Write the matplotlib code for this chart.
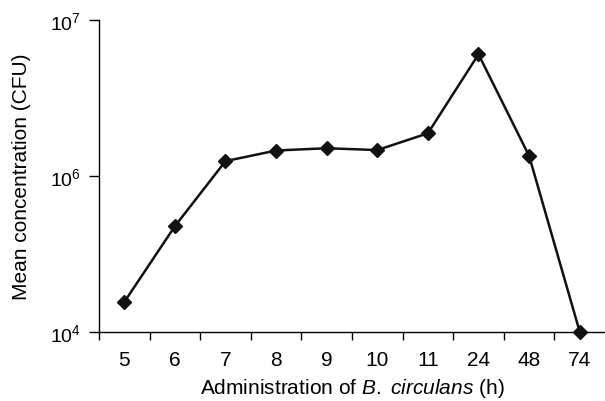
import numpy as np
import matplotlib
matplotlib.use('Agg')
import matplotlib.pyplot as plt

plt.rcParams['font.family'] = 'Liberation Sans'
plt.rcParams['mathtext.fontset'] = 'custom'
plt.rcParams['mathtext.rm'] = 'Liberation Sans'
plt.rcParams['mathtext.it'] = 'Liberation Sans:italic'

hours = ['5', '6', '7', '8', '9', '10', '11', '24', '48', '74']
cfu = [2.4e4, 2.25e5, 1.24e6, 1.45e6, 1.5e6, 1.46e6, 1.87e6, 6.0e6, 1.34e6, 1.0e4]
ytick_vals = [1e4, 1e6, 1e7]
ytick_labels = [r'$10^4$', r'$10^6$', r'$10^7$']


# the axis puts 10^4, 10^6 and 10^7 evenly apart: two decades below 10^6, one above
def fwd(y):
    lg = np.log10(np.clip(y, 1e-12, None))
    return np.where(lg <= 6, (lg - 4) / 2, 1 + (lg - 6))


def inv(u):
    return np.where(u <= 1, 10 ** (4 + 2 * u), 10 ** (6 + (u - 1)))


fig = plt.figure(figsize=(6.05, 4.02), dpi=100)
ax = fig.add_axes([0.1636, 0.1724, 0.8364, 0.7761])
ax.set_yscale('function', functions=(fwd, inv))

x = np.arange(len(hours))
ax.plot(x, cfu, color='#111111', lw=1.8, marker='D', ms=7.5, clip_on=False, zorder=3)

ax.set_xlim(-0.5, len(hours) - 0.5)
ax.set_ylim(1e4, 1e7)
ax.set_xticks(x - 0.5)
ax.set_xticklabels([])
ax.set_xticks(x, minor=True)
ax.set_xticklabels(hours, minor=True)
ax.tick_params(axis='x', which='minor', length=0, pad=13, labelsize=15)
ax.tick_params(axis='x', which='major', length=6, width=1)
ax.set_yticks(ytick_vals)
ax.set_yticklabels(ytick_labels)
ax.yaxis.set_minor_locator(matplotlib.ticker.NullLocator())
ax.tick_params(axis='y', length=7, width=1, labelsize=14, pad=6)

for s in ['top', 'right']:
    ax.spines[s].set_visible(False)
for s in ['left', 'bottom']:
    ax.spines[s].set_linewidth(1)

ax.set_xlabel('Administration of $B.$ $circulans$ (h)', fontsize=15)
ax.set_ylabel('Mean concentration (CFU)', fontsize=15)
ax.xaxis.set_label_coords(0.5, -0.142)
ax.yaxis.set_label_coords(-0.134, 0.5)

fig.savefig('out.png', dpi=100)
